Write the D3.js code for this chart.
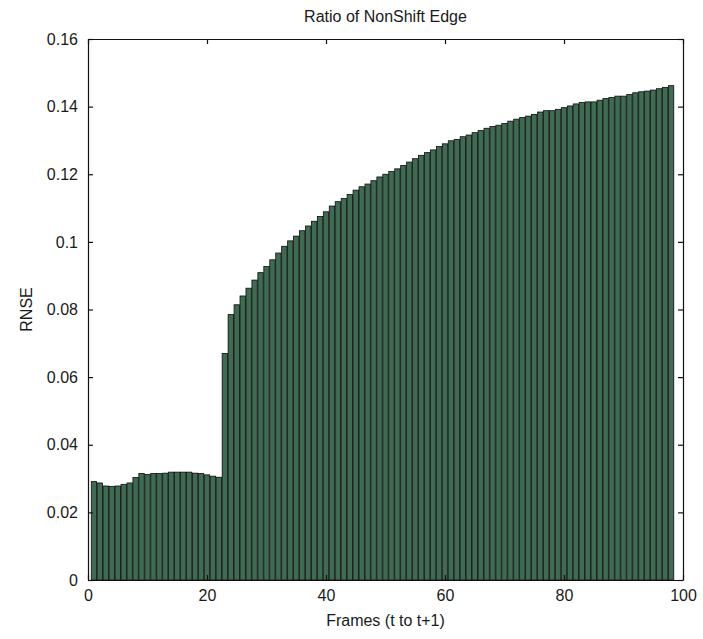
<!DOCTYPE html>
<html>
<head>
<meta charset="utf-8">
<script src="https://cdn.jsdelivr.net/npm/d3@7"></script>
<style>
  html, body { margin: 0; padding: 0; background: #fff; }
  svg { display: block; }
  text { font-family: "Liberation Sans", Arial, sans-serif; fill: #1a1a1a; }
</style>
</head>
<body>
<svg id="chart" width="703" height="639"></svg>
<script>
// ---- Data ----
const title = "Ratio of NonShift Edge";
const xLabel = "Frames (t to t+1)";
const yLabel = "RNSE";
const frames = d3.range(1, 99); // frame indices 1..98
const rnse = [
  0.0291, 0.0287, 0.0278, 0.0277, 0.0278, 0.0283, 0.0287, 0.0303, 0.0315, 0.0312,
  0.0315, 0.0315, 0.0316, 0.0319, 0.0319, 0.0319, 0.0319, 0.0316, 0.0315, 0.0311,
  0.0307, 0.0304, 0.0670, 0.0785, 0.0814, 0.0840, 0.0863, 0.0887, 0.0909, 0.0927,
  0.0947, 0.0967, 0.0987, 0.1003, 0.1017, 0.1033, 0.1047, 0.1061, 0.1075, 0.1089,
  0.1106, 0.1119, 0.1128, 0.1140, 0.1153, 0.1163, 0.1171, 0.1181, 0.1192, 0.1200,
  0.1208, 0.1216, 0.1226, 0.1236, 0.1246, 0.1256, 0.1264, 0.1272, 0.1282, 0.1290,
  0.1299, 0.1303, 0.1311, 0.1316, 0.1323, 0.1329, 0.1336, 0.1341, 0.1345, 0.1350,
  0.1357, 0.1363, 0.1368, 0.1372, 0.1377, 0.1384, 0.1388, 0.1388, 0.1392, 0.1397,
  0.1402, 0.1408, 0.1412, 0.1414, 0.1414, 0.1419, 0.1424, 0.1427, 0.1431, 0.1431,
  0.1436, 0.1441, 0.1444, 0.1446, 0.1449, 0.1453, 0.1457, 0.1462
];
const xTicks = [0, 20, 40, 60, 80, 100];
const yTicks = [0, 0.02, 0.04, 0.06, 0.08, 0.1, 0.12, 0.14, 0.16];
const yTickLabels = ["0", "0.02", "0.04", "0.06", "0.08", "0.1", "0.12", "0.14", "0.16"];

// ---- Layout ----
const margin = { left: 88, right: 20, top: 39, bottom: 59 };
const W = 703, H = 639;
const iw = W - margin.left - margin.right;
const ih = H - margin.top - margin.bottom;

const svg = d3.select("#chart");
svg.append("rect").attr("width", W).attr("height", H).attr("fill", "#fff");
const g = svg.append("g").attr("transform", `translate(${margin.left},${margin.top})`);

const x = d3.scaleLinear().domain([0, 100]).range([0, iw]);
const y = d3.scaleLinear().domain([0, 0.16]).range([ih, 0]);

const barW = 0.9;
g.selectAll("rect.bar")
  .data(frames.map((f, i) => ({ f, v: rnse[i] })))
  .join("rect")
  .attr("class", "bar")
  .attr("x", d => x(d.f - barW / 2))
  .attr("width", d => x(barW) - x(0))
  .attr("y", d => y(d.v))
  .attr("height", d => y(0) - y(d.v))
  .attr("fill", "#3f6b52")
  .attr("stroke", "#0d0d0d")
  .attr("stroke-width", 0.8);

// Axes (MATLAB style box with inward ticks)
const tickLen = 5;
const fs = "16px";
const xAxisB = d3.axisBottom(x).tickValues(xTicks).tickSizeInner(-tickLen).tickSizeOuter(0).tickPadding(10).tickFormat(d3.format("d"));
const xAxisT = d3.axisTop(x).tickValues(xTicks).tickSizeInner(-tickLen).tickSizeOuter(0).tickFormat("");
const yAxisL = d3.axisLeft(y).tickValues(yTicks).tickSizeInner(-tickLen).tickSizeOuter(0).tickPadding(10).tickFormat((d, i) => yTickLabels[i]);
const yAxisR = d3.axisRight(y).tickValues(yTicks).tickSizeInner(-tickLen).tickSizeOuter(0).tickFormat("");

function style(sel) {
  sel.select(".domain").attr("stroke", "#111").attr("stroke-width", 1.2);
  sel.selectAll(".tick line").attr("stroke", "#111").attr("stroke-width", 1.2);
  sel.selectAll(".tick text").attr("font-size", fs).attr("font-family", "Liberation Sans, Arial, sans-serif").attr("fill", "#1a1a1a");
}
g.append("g").attr("transform", `translate(0,${ih})`).call(xAxisB).call(style);
g.append("g").call(xAxisT).call(style);
g.append("g").call(yAxisL).call(style);
g.append("g").attr("transform", `translate(${iw},0)`).call(yAxisR).call(style);

// Labels
svg.append("text").attr("x", margin.left + iw / 2).attr("y", 22)
  .attr("text-anchor", "middle").attr("font-size", "16px").text(title);
svg.append("text").attr("x", margin.left + iw / 2).attr("y", 626)
  .attr("text-anchor", "middle").attr("font-size", "16px").text(xLabel);
svg.append("text").attr("transform", `translate(32,${margin.top + ih / 2}) rotate(-90)`)
  .attr("text-anchor", "middle").attr("font-size", "16px").text(yLabel);
</script>
</body>
</html>
